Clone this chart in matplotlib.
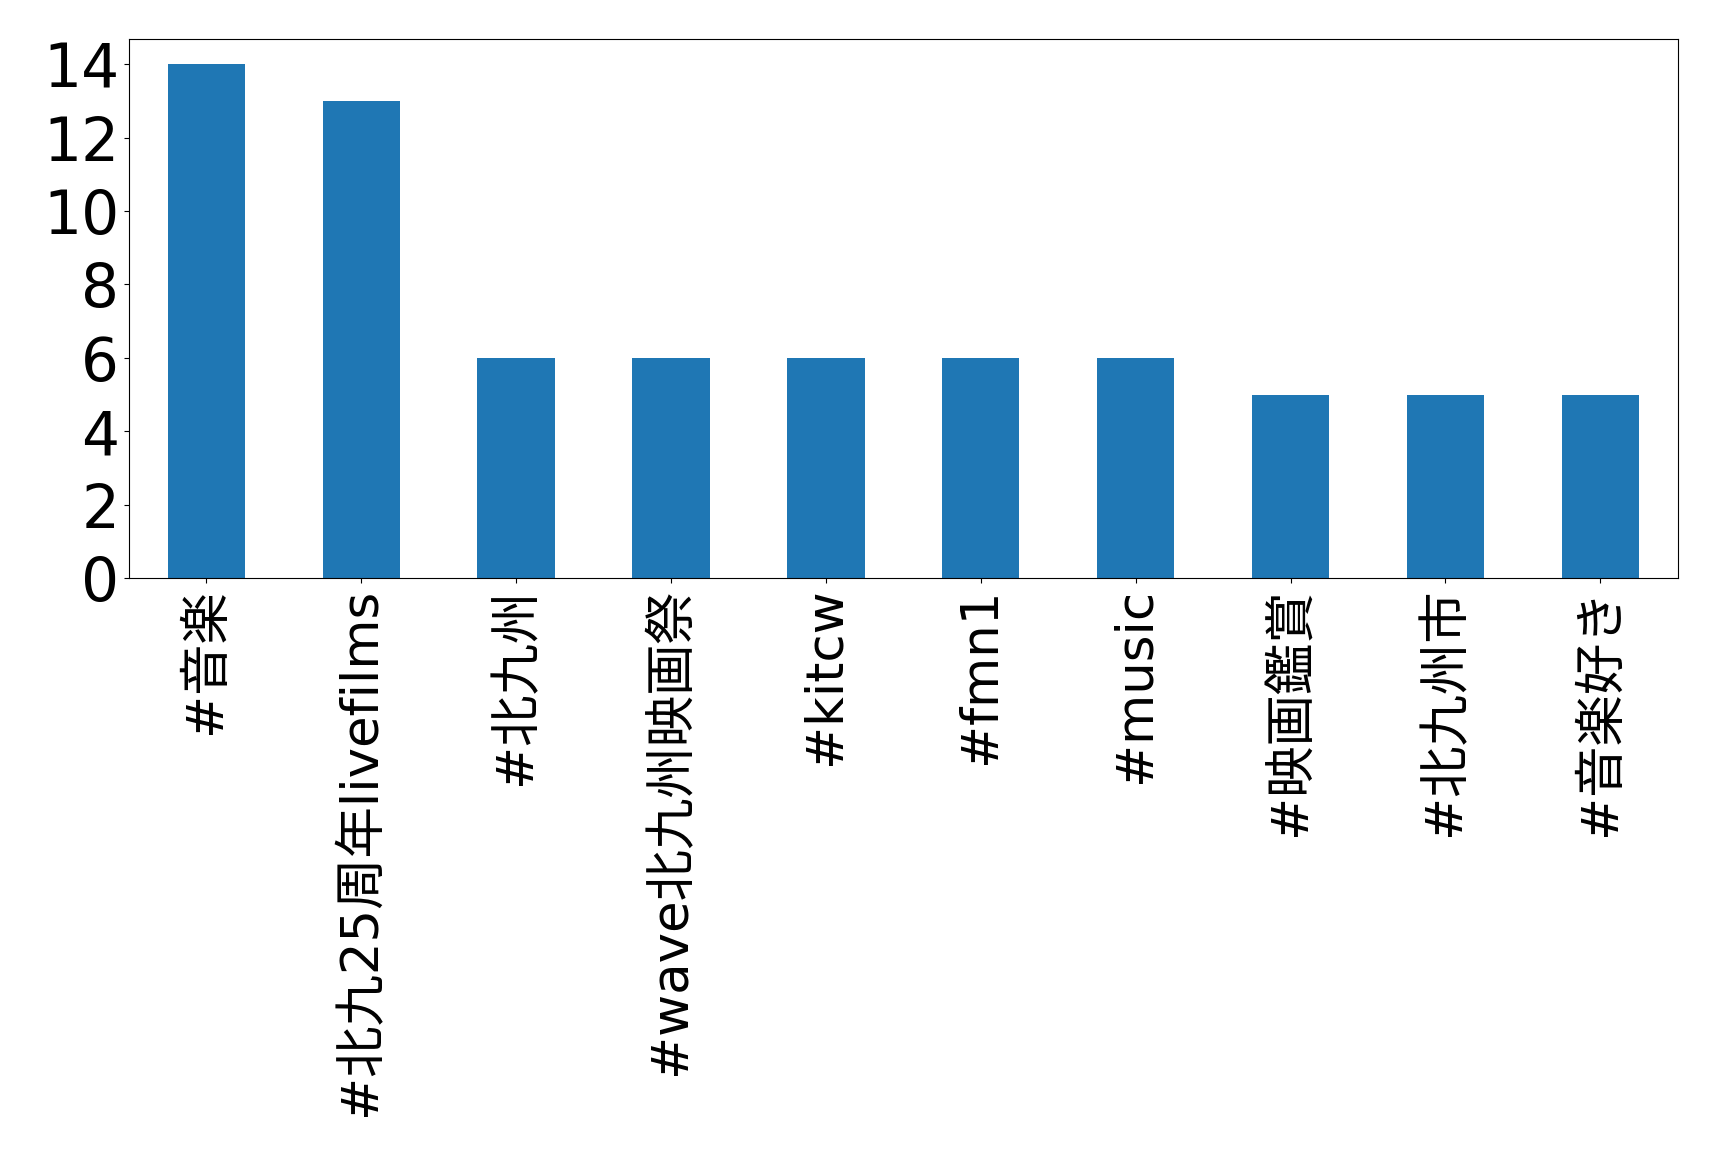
import matplotlib
matplotlib.use("Agg")
import matplotlib.pyplot as plt

# hashtag counts (top 10)
hashtags = [
    "#音楽",
    "#北九25周年livefilms",
    "#北九州",
    "#wave北九州映画祭",
    "#kitcw",
    "#fmn1",
    "#music",
    "#映画鑑賞",
    "#北九州市",
    "#音楽好き",
]
counts = [14, 13, 6, 6, 6, 6, 6, 5, 5, 5]
yticks = [0, 2, 4, 6, 8, 10, 12, 14]

plt.rcParams["font.family"] = ["DejaVu Sans", "Noto Sans CJK JP"]

fig = plt.figure(figsize=(17.19, 11.7), dpi=100)
ax = fig.add_axes([0.075, 0.506, 0.901, 0.461])

pos = list(range(len(hashtags)))
ax.bar(pos, counts, width=0.5, color="#1f77b4")
ax.set_xlim(-0.5, len(hashtags) - 0.5)
ax.set_ylim(0, 14.7)
ax.set_xticks(pos)
# CJK glyphs are wider than the latin ones, so the labels are a bit smaller
ax.set_xticklabels(hashtags, rotation=90, fontsize=37)
ax.set_yticks(yticks)
ax.set_yticklabels([str(v) for v in yticks], fontsize=43)

fig.savefig("out.png", dpi=100)
